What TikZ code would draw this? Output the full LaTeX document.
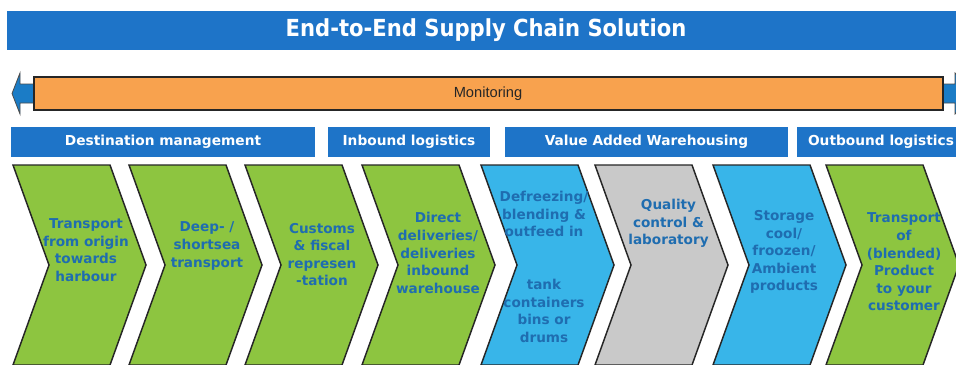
\documentclass[tikz,border=0pt]{standalone}
\usepackage{fontspec}
\setmainfont{DejaVu Sans}
\newfontfamily\condfont{DejaVu Sans Condensed}
\newfontfamily\arialfont{Liberation Sans}
\definecolor{barblue}{HTML}{1E74C8}
\definecolor{arrowblue}{HTML}{1B7CC6}
\definecolor{orangebar}{HTML}{F8A24E}
\definecolor{chgreen}{HTML}{8DC540}
\definecolor{chblue}{HTML}{38B5E9}
\definecolor{chgrey}{HTML}{C9C9C9}
\definecolor{txtblue}{HTML}{1F6DB0}
\tikzset{
  hdrtext/.style={text=white, font=\fontsize{10.3pt}{12pt}\selectfont\bfseries, inner sep=0pt},
  chtext/.style={text=txtblue, align=center, inner sep=0pt, font=\fontsize{10.2pt}{13.2pt}\selectfont\bfseries},
  chev/.style={draw=black!85, line width=1.1pt, line join=miter},
}
\newcommand{\chevpath}[2]{%
  \path[chev, fill=#2] (#1,165) -- ++(97,0) -- ++(36,100) -- ++(-36,100) -- ++(-97,0) -- ++(36,-100) -- cycle;}
\begin{document}
\begin{tikzpicture}[x=0.75pt,y=-0.75pt]
\useasboundingbox (0,0) rectangle (956,364);
\clip (0,0) rectangle (956,364);
\fill[white] (0,0) rectangle (956,364);
% title bar
\fill[barblue] (7,11) rectangle (962,50);
\node[text=white, inner sep=0pt, font=\condfont\fontsize{17.6pt}{20pt}\selectfont\bfseries] (title) at (486,30.5) {End-to-End Supply Chain Solution};
% monitoring arrow
\path[draw=black!70, line width=0.6pt, fill=arrowblue]
  (12,93.5) -- (20,73) -- (20,84) -- (955,84) -- (955,73) -- (975,93.5) -- (955,114) -- (955,103) -- (20,103) -- (20,114) -- cycle;
\path[draw=black!85, line width=1pt, fill=orangebar] (34,77) rectangle (943,110);
\node[text=black!85, inner sep=0pt, font=\arialfont\fontsize{11pt}{13pt}\selectfont] (mon) at (488,94) {Monitoring};
% header bars
\fill[barblue] (11,127) rectangle (315,157);
\fill[barblue] (328,127) rectangle (490,157);
\fill[barblue] (505,127) rectangle (788,157);
\fill[barblue] (797,127) rectangle (962,157);
\node[hdrtext] (h1) at (163,142) {Destination management};
\node[hdrtext] (h2) at (409,142) {Inbound logistics};
\node[hdrtext] (h3) at (646.5,142) {Value Added Warehousing};
\node[hdrtext] (h4) at (881,142) {Outbound logistics};
% chevrons
\chevpath{13}{chgreen}
\chevpath{129}{chgreen}
\chevpath{245}{chgreen}
\chevpath{362}{chgreen}
\chevpath{481}{chblue}
\chevpath{595}{chgrey}
\chevpath{713}{chblue}
\chevpath{826}{chgreen}
\node[chtext] (c1) at (86,250) {Transport\\from origin\\towards\\harbour};
\node[chtext] (c2) at (207,246) {Deep- /\\shortsea\\transport};
\node[chtext] (c3) at (322,254.5) {Customs\\\& fiscal\\represen\\-tation};
\node[chtext] (c4) at (438,253) {Direct\\deliveries/\\deliveries\\inbound\\warehouse};
\node[chtext] (c5) at (544,267) {Defreezing/\\blending \&\\outfeed in\\[26.4pt]tank\\containers\\bins or\\drums};
\node[chtext] (c6) at (668.5,223.5) {Quality\\control \&\\laboratory};
\node[chtext] (c7) at (784,252) {Storage\\cool/\\froozen/\\Ambient\\products};
\node[chtext] (c8) at (904,262) {Transport\\of\\(blended)\\Product\\to your\\customer};
\end{tikzpicture}
\end{document}
